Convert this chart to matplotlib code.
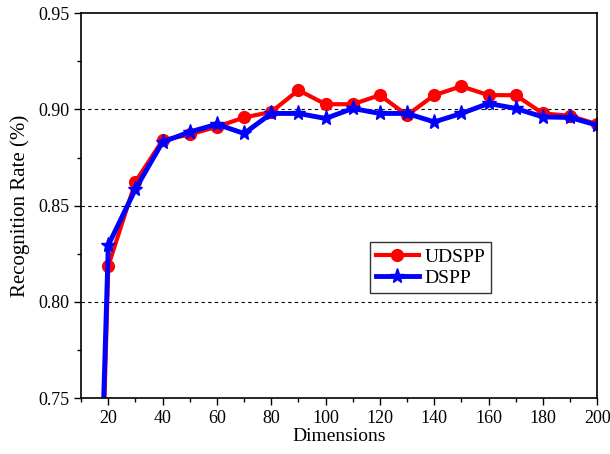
import matplotlib
matplotlib.use('Agg')
import matplotlib.pyplot as plt
from matplotlib.ticker import MultipleLocator

plt.rcParams['font.family'] = ['Liberation Serif', 'DejaVu Serif']

dims = [10, 20, 30, 40, 50, 60, 70, 80, 90, 100, 110, 120, 130, 140, 150, 160, 170, 180, 190, 200]
udspp = [0.33, 0.8187, 0.8624, 0.884, 0.887, 0.891, 0.8958, 0.8987, 0.910, 0.9027, 0.9027,
         0.9074, 0.897, 0.9074, 0.912, 0.9074, 0.9074, 0.8979, 0.8967, 0.8923]
dspp = [0.36, 0.8295, 0.8586, 0.8831, 0.8883, 0.8923, 0.8875, 0.8979, 0.8979, 0.8953, 0.9005,
        0.8979, 0.8979, 0.8935, 0.8979, 0.9031, 0.9005, 0.8961, 0.8958, 0.8918]

fig = plt.figure(figsize=(6.1, 4.54), dpi=100)
ax = fig.add_axes([0.133, 0.123, 0.846, 0.848])

ax.plot(dims, udspp, color='red', linewidth=3, marker='o', markersize=8.5, label='UDSPP')
ax.plot(dims, dspp, color='blue', linewidth=3.5, marker='*', markersize=11, label='DSPP')

ax.set_xlim(10, 200)
ax.set_ylim(0.75, 0.95)
ax.xaxis.set_minor_locator(MultipleLocator(10))
ax.yaxis.set_minor_locator(MultipleLocator(0.025))
ax.set_xticks(range(20, 201, 20))
ax.set_yticks([0.75, 0.80, 0.85, 0.90, 0.95])
ax.set_yticklabels(['0.75', '0.80', '0.85', '0.90', '0.95'])
ax.tick_params(which='major', direction='out', length=5, width=1, labelsize=13)
ax.tick_params(which='minor', direction='out', length=3, width=1)

for y in [0.80, 0.85, 0.90]:
    ax.axhline(y, color='black', linestyle='--', linewidth=0.8, dashes=(3, 3), zorder=0)

for s in ax.spines.values():
    s.set_linewidth(1.2)

ax.set_xlabel('Dimensions', fontsize=14, labelpad=1)
ax.set_ylabel('Recognition Rate (%)', fontsize=15, labelpad=6)

leg = ax.legend(loc='upper left', bbox_to_anchor=(0.56, 0.405), fontsize=14,
                frameon=True, fancybox=False, edgecolor='black', handlelength=2.2,
                borderpad=0.3, labelspacing=0.2, handletextpad=0.3, borderaxespad=0)
leg.get_frame().set_linewidth(1)

plt.savefig('out.png', dpi=100)
plt.close()
